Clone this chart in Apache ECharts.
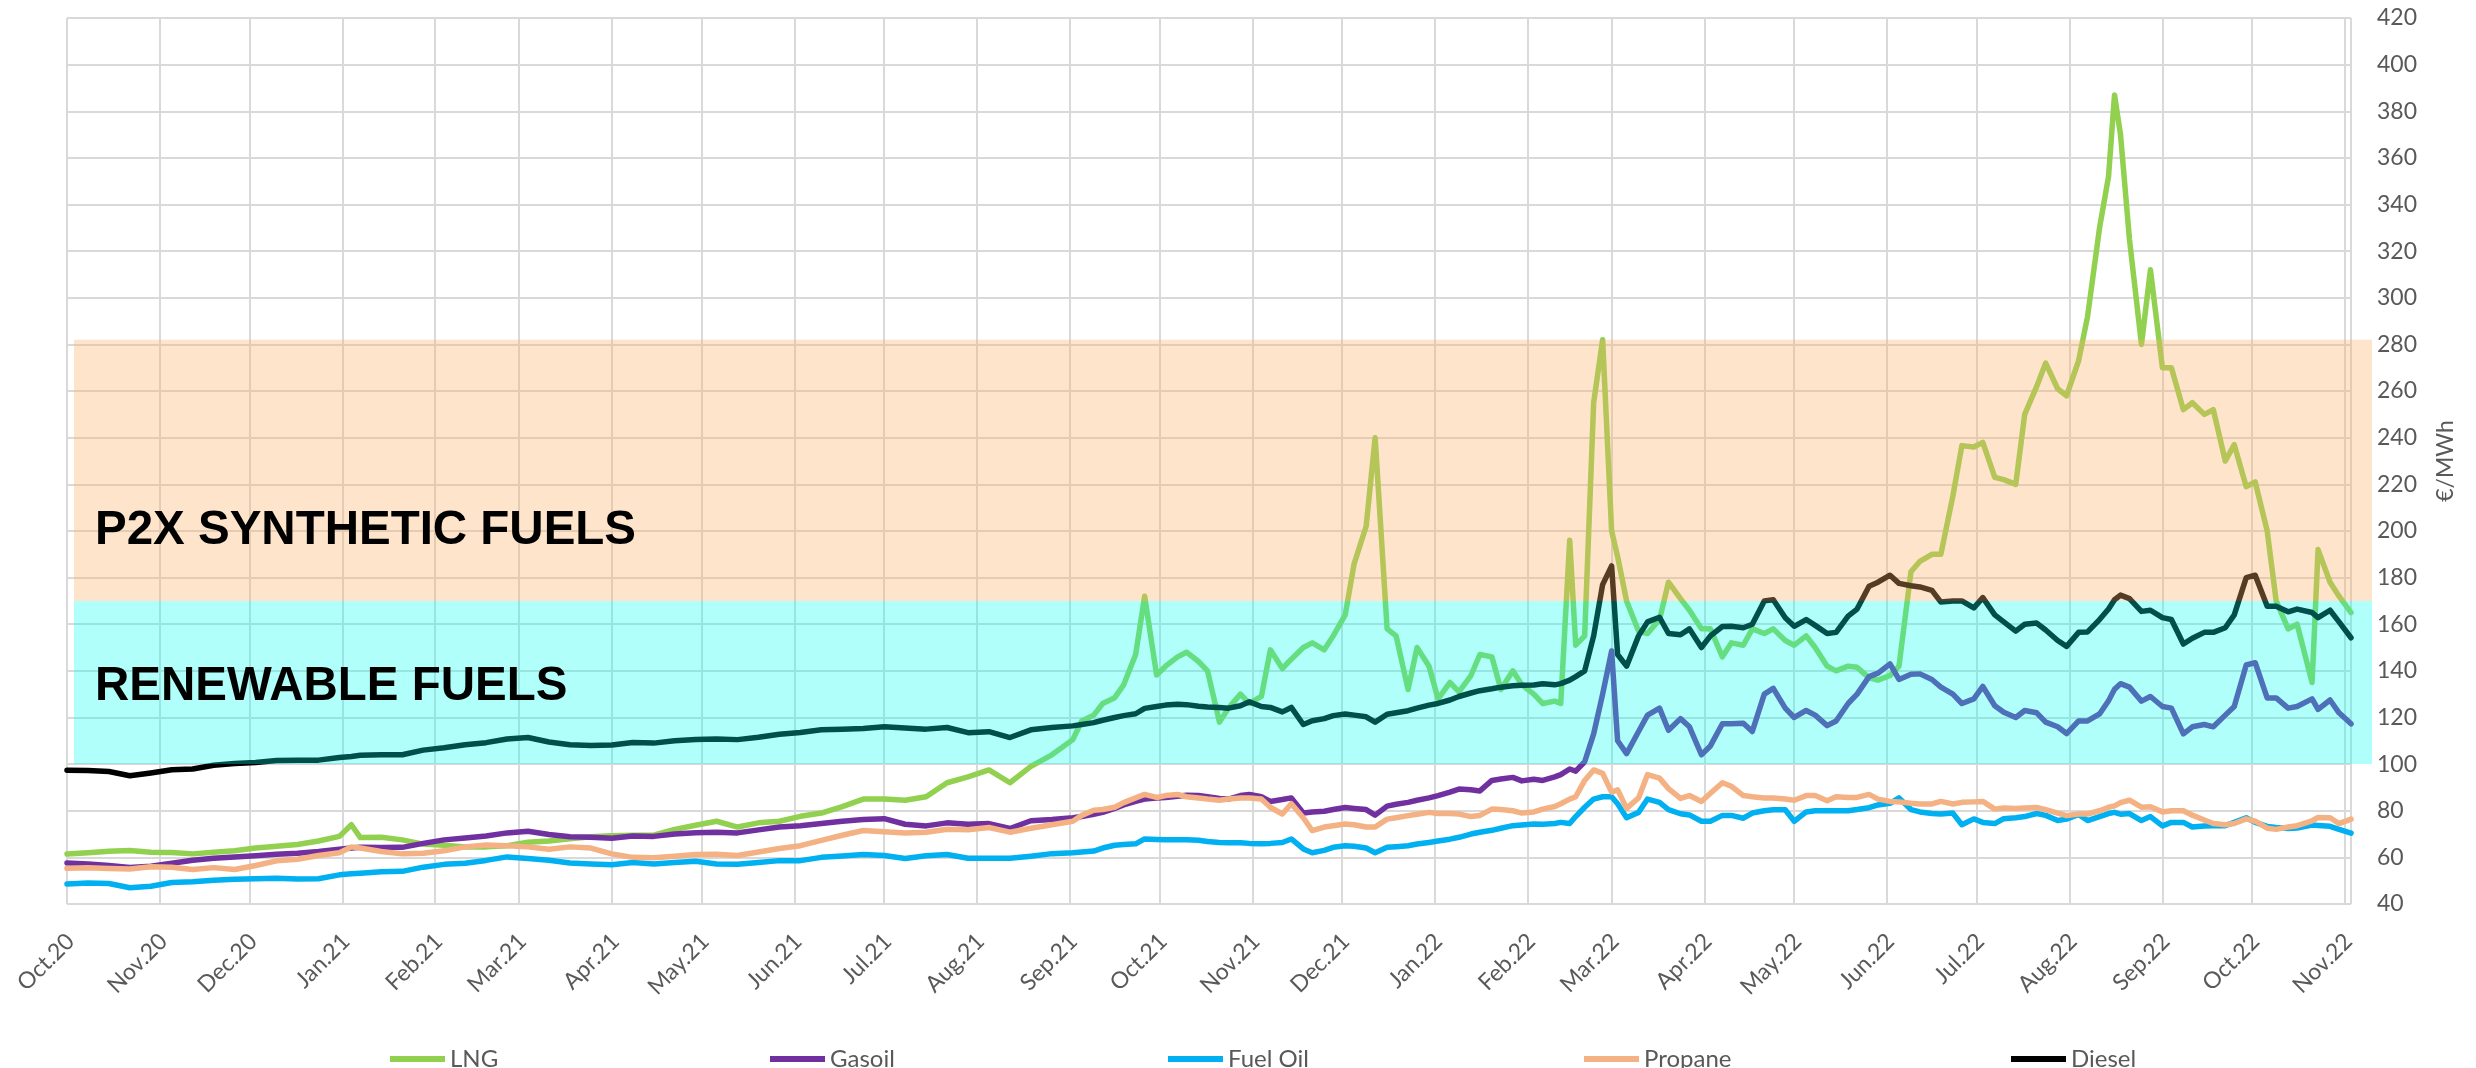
<!DOCTYPE html>
<html><head><meta charset="utf-8">
<script src="https://cdn.jsdelivr.net/npm/echarts@6/dist/echarts.min.js"></script>
<style>html,body{margin:0;padding:0;background:#fff}#c{width:2476px;height:1068px}</style>
</head><body><div id="c"></div>
<script>
const dates = ['2020-10-01','2020-10-08','2020-10-15','2020-10-22','2020-10-29','2020-11-05','2020-11-12','2020-11-19','2020-11-26','2020-12-03','2020-12-10','2020-12-17','2020-12-24','2020-12-31','2021-01-04','2021-01-07','2021-01-14','2021-01-21','2021-01-28','2021-02-04','2021-02-11','2021-02-18','2021-02-25','2021-03-04','2021-03-11','2021-03-18','2021-03-25','2021-04-01','2021-04-08','2021-04-15','2021-04-22','2021-04-29','2021-05-06','2021-05-13','2021-05-20','2021-05-27','2021-06-03','2021-06-10','2021-06-17','2021-06-24','2021-07-01','2021-07-08','2021-07-15','2021-07-22','2021-07-29','2021-08-05','2021-08-12','2021-08-19','2021-08-26','2021-09-02','2021-09-05','2021-09-09','2021-09-12','2021-09-16','2021-09-19','2021-09-23','2021-09-26','2021-09-30','2021-10-03','2021-10-07','2021-10-10','2021-10-14','2021-10-17','2021-10-21','2021-10-24','2021-10-28','2021-10-31','2021-11-04','2021-11-07','2021-11-11','2021-11-14','2021-11-18','2021-11-21','2021-11-25','2021-11-28','2021-12-02','2021-12-05','2021-12-09','2021-12-12','2021-12-16','2021-12-19','2021-12-23','2021-12-26','2021-12-30','2022-01-02','2022-01-06','2022-01-09','2022-01-13','2022-01-16','2022-01-20','2022-01-23','2022-01-27','2022-01-30','2022-02-03','2022-02-06','2022-02-10','2022-02-12','2022-02-15','2022-02-17','2022-02-20','2022-02-23','2022-02-26','2022-03-01','2022-03-03','2022-03-06','2022-03-10','2022-03-13','2022-03-17','2022-03-20','2022-03-24','2022-03-27','2022-03-31','2022-04-03','2022-04-07','2022-04-10','2022-04-14','2022-04-17','2022-04-21','2022-04-24','2022-04-28','2022-05-01','2022-05-05','2022-05-08','2022-05-12','2022-05-15','2022-05-19','2022-05-22','2022-05-26','2022-05-29','2022-06-02','2022-06-05','2022-06-09','2022-06-12','2022-06-16','2022-06-19','2022-06-23','2022-06-26','2022-06-30','2022-07-03','2022-07-07','2022-07-10','2022-07-14','2022-07-17','2022-07-21','2022-07-24','2022-07-28','2022-07-31','2022-08-04','2022-08-07','2022-08-11','2022-08-14','2022-08-16','2022-08-18','2022-08-21','2022-08-25','2022-08-28','2022-09-01','2022-09-04','2022-09-08','2022-09-11','2022-09-15','2022-09-18','2022-09-22','2022-09-25','2022-09-29','2022-10-02','2022-10-06','2022-10-09','2022-10-13','2022-10-16','2022-10-21','2022-10-23','2022-10-27','2022-10-30','2022-11-03'];

const lng = [61.4,62.0,62.6,62.9,62.2,62.1,61.5,62.2,62.8,64.0,64.8,65.5,67.0,69.0,74.0,68.5,68.6,67.5,65.7,65.2,64.5,64.5,65.0,66.5,67.0,68.0,68.8,69.3,69.5,69.5,72.0,73.8,75.5,73.0,74.8,75.5,77.6,79.0,81.8,85.0,85.0,84.5,86.0,92.0,94.5,97.5,92.0,99.0,104.0,110.5,118.5,121.0,126.0,128.5,134.0,147.0,172.0,138.2,142.0,146.0,148.0,144.0,140.0,118.0,124.0,130.0,126.0,129.0,149.0,141.0,145.0,150.0,152.0,149.0,155.0,164.0,186.0,202.0,240.0,158.0,155.0,132.0,150.0,142.0,128.0,135.0,131.0,138.0,147.0,146.0,132.0,140.0,134.0,130.0,126.0,127.0,126.0,196.0,151.0,155.0,255.0,282.0,200.0,189.0,170.0,157.0,156.0,162.0,178.0,171.0,166.0,158.0,158.0,146.0,152.0,151.0,158.0,156.0,158.0,153.0,151.0,155.0,150.0,142.0,140.0,142.0,141.5,137.0,136.0,138.0,142.0,182.5,187.0,190.0,190.0,215.0,236.6,236.0,238.0,223.0,222.0,220.0,250.0,262.0,272.0,261.0,258.0,273.0,292.0,330.0,352.0,387.0,370.0,325.0,280.0,312.0,270.0,270.0,252.0,255.0,250.0,252.0,230.0,237.0,219.0,221.0,200.0,170.0,158.0,160.0,135.0,192.0,178.0,172.0,165.0];

const gasoil = [57.6,57.2,56.5,55.7,56.2,57.5,58.8,59.6,60.2,60.7,61.3,61.8,62.5,63.5,64.0,64.3,64.2,64.3,66.0,67.5,68.3,69.2,70.5,71.2,69.8,68.8,68.6,68.2,69.2,69.0,70.0,70.6,70.8,70.5,71.8,73.0,73.6,74.5,75.5,76.2,76.6,74.2,73.5,74.8,74.2,74.5,72.4,75.7,76.2,77.0,77.5,78.5,79.3,81.0,82.5,84.0,85.0,85.5,85.7,86.2,86.6,86.5,86.0,85.3,85.0,86.5,87.0,86.0,84.0,84.8,85.5,79.0,79.5,79.8,80.5,81.4,81.0,80.5,78.1,82.0,82.8,83.6,84.5,85.5,86.5,88.0,89.3,89.0,88.5,93.0,93.6,94.3,92.8,93.5,93.0,94.5,95.5,97.9,97.0,101.0,113.0,130.0,148.5,110.0,104.5,114.0,121.0,124.0,114.5,119.5,116.0,104.0,107.8,117.3,117.3,117.5,114.0,130.0,132.5,124.0,120.0,123.0,121.0,116.5,118.5,126.0,130.0,137.5,139.0,143.0,136.3,138.5,138.7,136.3,133.0,130.0,126.0,128.0,133.3,125.0,122.2,120.0,123.0,122.0,118.0,116.0,113.1,118.5,118.5,121.5,127.2,132.1,134.5,133.0,127.0,129.0,124.7,124.0,113.0,116.0,117.0,116.0,121.0,124.7,142.5,143.5,128.4,128.4,124.0,124.7,128.0,123.5,127.5,122.0,117.3];

const fuelOil = [48.6,49.0,48.8,47.0,47.6,49.2,49.5,50.2,50.6,50.8,51.0,50.7,50.8,52.5,53.0,53.2,53.8,54.0,55.8,57.0,57.5,58.7,60.2,59.5,58.8,57.6,57.2,56.8,57.8,57.2,57.8,58.3,57.2,57.0,57.8,58.6,58.6,60.0,60.6,61.2,60.8,59.5,60.7,61.2,59.6,59.6,59.6,60.5,61.6,62.0,62.3,62.7,64.0,65.2,65.5,65.8,67.9,67.7,67.6,67.6,67.6,67.3,66.8,66.4,66.3,66.3,66.0,65.8,66.0,66.4,67.9,63.6,62.0,63.0,64.3,65.0,64.8,64.0,62.0,64.3,64.6,65.0,65.7,66.4,67.0,67.8,68.6,70.0,70.8,71.6,72.5,73.6,73.9,74.3,74.2,74.5,75.0,74.5,77.5,81.5,85.0,86.0,86.0,83.0,77.0,79.3,85.0,83.6,80.5,78.7,78.2,75.5,75.5,78.0,78.0,76.8,79.0,80.0,80.4,80.4,75.5,79.5,80.0,80.0,80.0,80.0,80.5,81.3,82.5,83.2,85.5,80.5,79.5,78.8,78.6,79.0,74.0,76.5,75.0,74.5,76.6,77.0,77.5,78.8,78.0,75.8,76.4,78.4,75.8,77.5,78.8,79.3,78.5,78.8,75.8,77.5,73.5,75.0,75.0,73.0,73.5,73.6,73.6,75.0,77.0,75.0,73.3,72.8,72.4,72.6,73.9,73.7,73.3,72.0,70.4];

const propane = [55.3,55.5,55.2,55.0,56.0,55.8,54.8,55.6,54.8,56.5,58.5,59.2,60.8,62.0,64.5,64.0,62.5,61.5,61.8,62.8,64.5,65.3,65.0,64.5,63.5,64.5,64.0,61.5,60.0,59.8,60.5,61.2,61.3,60.8,62.3,63.8,65.0,67.3,69.5,71.5,71.0,70.5,70.8,72.1,71.8,72.8,70.8,72.5,74.0,75.5,78.0,80.2,80.5,81.5,83.5,85.5,87.0,85.7,86.5,87.0,86.0,85.5,85.0,84.5,85.0,85.5,85.5,85.0,81.5,78.6,83.0,77.0,71.5,73.0,73.6,74.3,74.0,73.0,73.0,76.4,77.0,77.9,78.5,79.3,78.8,78.8,78.6,77.5,78.0,80.7,80.5,80.0,79.0,79.5,80.7,81.8,83.0,85.0,86.0,93.0,97.5,96.0,88.0,89.0,81.0,85.5,95.5,94.0,89.5,85.3,86.5,84.0,87.5,92.0,90.5,86.5,86.0,85.5,85.5,85.0,84.5,86.5,86.5,84.3,86.0,85.7,85.7,87.0,85.0,84.0,83.8,83.2,82.9,82.9,84.0,82.9,83.6,83.8,84.0,80.7,81.2,81.0,81.2,81.4,80.5,79.0,77.9,78.6,78.6,80.0,81.5,82.1,83.5,84.5,81.5,81.7,79.5,80.0,80.0,78.1,76.0,74.5,74.0,74.5,76.5,75.5,72.5,72.0,73.0,73.6,75.7,77.1,77.0,74.5,76.4];

const diesel = [97.4,97.3,96.8,95.0,96.2,97.6,97.9,99.5,100.3,100.7,101.5,101.6,101.7,102.8,103.3,103.8,104.0,104.0,106.0,107.0,108.3,109.2,110.8,111.4,109.5,108.3,108.0,108.2,109.3,109.0,110.0,110.6,110.8,110.5,111.5,112.8,113.6,114.7,115.0,115.3,116.0,115.5,115.0,115.7,113.5,113.9,111.4,114.7,115.7,116.4,117.0,117.8,118.8,120.0,120.8,121.6,123.9,124.7,125.3,125.7,125.5,124.8,124.5,124.3,124.0,125.0,126.7,124.7,124.3,122.4,124.3,117.0,118.6,119.5,120.8,121.5,121.0,120.3,118.0,121.4,122.0,122.9,124.0,125.3,126.0,127.5,129.0,130.5,131.5,132.3,133.0,133.6,133.8,133.9,134.5,134.0,134.5,136.0,137.5,140.0,155.0,177.0,185.0,147.0,142.0,155.0,161.0,163.0,156.0,155.5,158.0,150.0,155.0,159.0,159.1,158.5,160.0,170.0,170.5,162.8,159.1,162.0,159.5,156.0,156.5,163.5,166.5,176.3,178.0,181.0,177.5,176.5,176.0,174.5,169.5,170.0,170.0,167.0,171.4,164.0,161.0,157.0,160.0,160.5,157.5,153.0,150.5,156.5,156.7,162.0,166.5,170.5,172.5,171.0,165.5,166.0,162.8,162.0,151.5,154.0,156.5,156.5,158.5,164.0,180.0,181.0,167.7,167.7,165.3,166.5,165.0,162.8,166.0,161.0,154.2];

const seriesNames = ['LNG', 'Gasoil', 'Fuel Oil', 'Propane', 'Diesel'];
const seriesColors = ['#92D050', '#7030A0', '#00B0F0', '#F4B183', '#000000'];
const seriesValues = [lng, gasoil, fuelOil, propane, diesel];
const monthLabels = ['Jan.', 'Feb.', 'Mar.', 'Apr.', 'May.', 'Jun.', 'Jul.', 'Aug.', 'Sep.', 'Oct.', 'Nov.', 'Dec.'];
const bands = [
  { name: 'RENEWABLE FUELS', lo: 100, hi: 170, color: 'rgba(0,255,240,0.31)' },
  { name: 'P2X SYNTHETIC FUELS', lo: 170, hi: 282, color: 'rgba(249,176,102,0.34)' }
];
const legendLefts = [385, 765, 1163, 1579, 2006];

const FONT = 'Lato, "Open Sans", sans-serif';
const chart = echarts.init(document.getElementById('c'), null, { renderer: 'canvas' });

const lineSeries = seriesNames.map((n, i) => ({
  name: n,
  type: 'line',
  color: seriesColors[i],
  data: dates.map((d, j) => [d, seriesValues[i][j]]),
  showSymbol: false,
  symbol: 'none',
  lineStyle: { width: 5.5, color: seriesColors[i], join: 'round', cap: 'round' },
  z: 2,
  silent: true
}));

const bandSeries = {
  type: 'custom',
  name: 'bands',
  z: 10,
  silent: true,
  clip: false,
  encode: { x: 0, y: [1, 2] },
  data: bands.map(b => ({ value: [dates[0], b.lo, b.hi], itemStyle: { color: b.color } })),
  renderItem: function (params, api) {
    const cs = params.coordSys;
    const yLo = api.coord([api.value(0), api.value(1)])[1];
    const yHi = api.coord([api.value(0), api.value(2)])[1];
    return {
      type: 'rect',
      shape: { x: cs.x + 7, y: yHi, width: cs.width + 14, height: yLo - yHi },
      style: { fill: api.visual('color') }
    };
  }
};

const legends = seriesNames.map((n, i) => ({
  data: [n],
  left: legendLefts[i],
  top: 1042,
  icon: 'rect',
  itemWidth: 55,
  itemHeight: 6,
  itemGap: 0,
  textStyle: { fontSize: 24, color: '#595959', fontFamily: FONT },
  selectedMode: false
}));

chart.setOption({
  animation: false,
  backgroundColor: '#ffffff',
  grid: { left: 67, right: 125, top: 18, bottom: 164, containLabel: false },
  xAxis: {
    type: 'time',
    min: dates[0],
    max: dates[dates.length - 1],
    minInterval: 28 * 86400000,
    maxInterval: 31 * 86400000,
    axisLine: { show: false },
    axisTick: { show: false },
    splitLine: { show: true, lineStyle: { color: '#d9d9d9', width: 2 } },
    axisLabel: {
      rotate: 45,
      margin: 30,
      fontSize: 23,
      lineHeight: 10,
      verticalAlign: 'top',
      color: '#595959',
      fontFamily: FONT,
      showMaxLabel: false,
      hideOverlap: false,
      formatter: function (v) {
        const d = new Date(v);
        return monthLabels[d.getMonth()] + String(d.getFullYear()).slice(2);
      }
    }
  },
  yAxis: {
    type: 'value',
    position: 'right',
    min: 40,
    max: 420,
    interval: 20,
    name: '€/MWh',
    nameLocation: 'middle',
    nameRotate: 90,
    nameGap: 83,
    nameTextStyle: { fontSize: 23, color: '#595959', fontFamily: FONT },
    axisLine: { show: false },
    axisTick: { show: false },
    splitLine: { show: true, lineStyle: { color: '#d9d9d9', width: 2 } },
    axisLabel: { margin: 26, fontSize: 23, color: '#595959', fontFamily: FONT, align: 'left' }
  },
  legend: legends,
  graphic: [
    { type: 'text', x: 95, y: 531, z: 100, style: { text: bands[1].name, font: 'bold 47.5px "Liberation Sans", Arial, sans-serif', fill: '#000000', verticalAlign: 'middle' } },
    { type: 'text', x: 95, y: 687, z: 100, style: { text: bands[0].name, font: 'bold 47.5px "Liberation Sans", Arial, sans-serif', fill: '#000000', verticalAlign: 'middle' } }
  ],
  series: lineSeries.concat([bandSeries])
});
</script>
</body></html>
